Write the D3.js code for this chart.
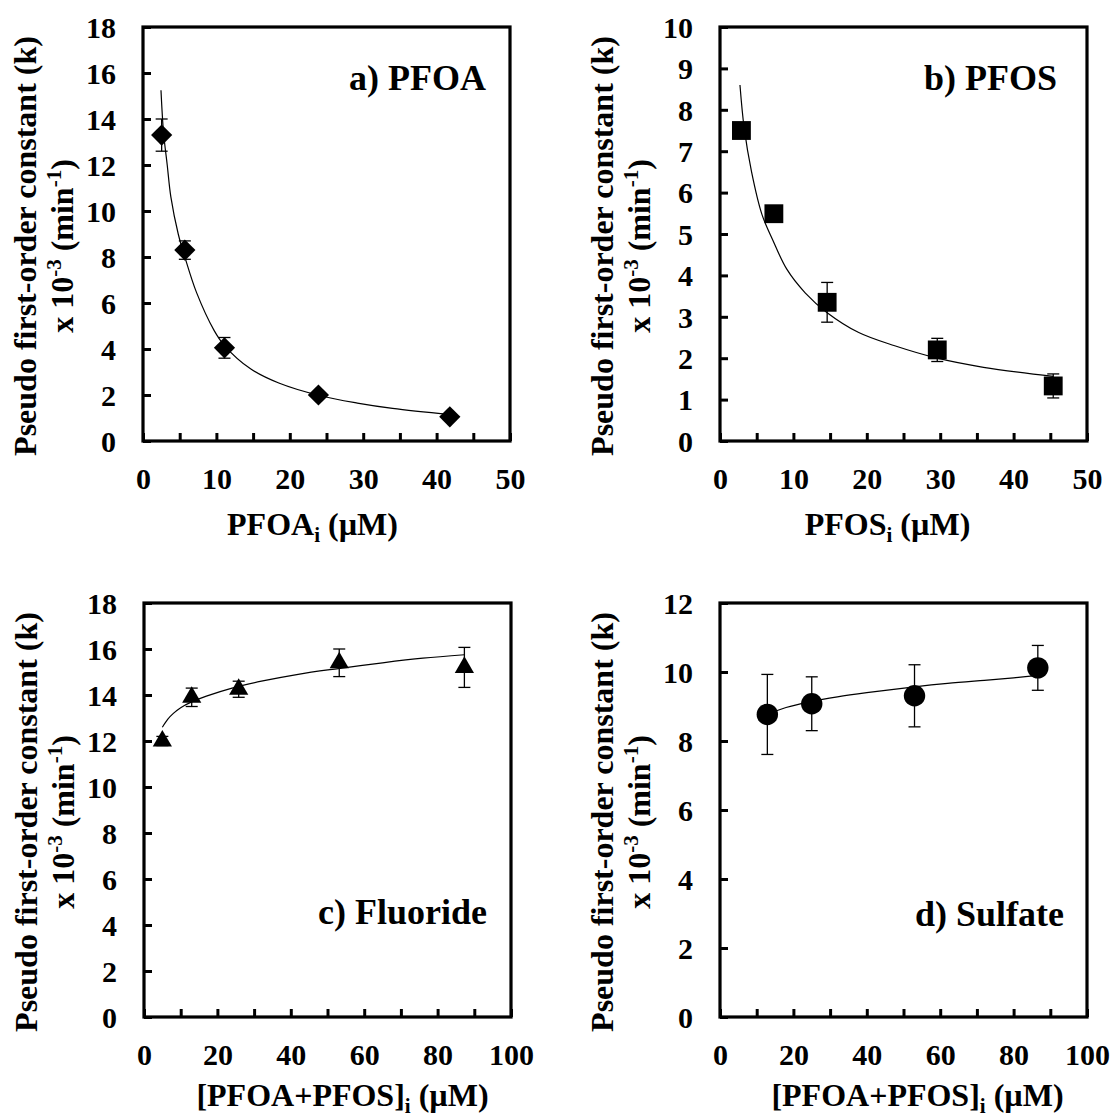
<!DOCTYPE html>
<html>
<head>
<meta charset="utf-8">
<script src="https://cdn.jsdelivr.net/npm/d3@7"></script>
<style>
body { margin: 0; background: #fff; }
text { font-family: "Liberation Serif", "Times New Roman", serif; font-weight: bold; fill: #000; }
</style>
</head>
<body>
<svg id="chart" width="1115" height="1118"></svg>
<script>
//Panel a) PFOA data (read off the figure)
var pfoaX = [2.54, 5.7, 11.1, 23.9, 41.8];
var pfoaK = [13.3, 8.3, 4.05, 2.0, 1.05];
var pfoaErr = [0.7, 0.4, 0.45, 0.12, 0.08];
var pfoaFitX = [2.45, 2.8, 3.3, 3.8, 4.8, 5.7, 7.3, 9.7, 11.1, 14.6, 18.5, 24, 29.2, 34, 41.9];
var pfoaFitK = [15.25, 13.4, 12.0, 10.6, 9.0, 8.0, 6.45, 4.8, 4.15, 3.15, 2.52, 1.98, 1.65, 1.42, 1.15];

//Panel b) PFOS data
var pfosX = [2.92, 7.34, 14.6, 29.6, 45.4];
var pfosK = [7.5, 5.49, 3.35, 2.2, 1.33];
var pfosErr = [0.1, 0.08, 0.48, 0.28, 0.29];
var pfosFitX = [2.72, 3.3, 4.3, 5.7, 7.2, 9.1, 11.6, 14.6, 18.9, 23.8, 29.6, 35.9, 45.4];
var pfosFitK = [8.6, 7.55, 6.5, 5.48, 4.85, 4.15, 3.58, 3.1, 2.62, 2.3, 2.0, 1.78, 1.56];

//Panel c) Fluoride data
var fluX = [5.0, 13.0, 25.8, 53.2, 87.3];
var fluK = [12.0, 13.9, 14.25, 15.4, 15.2];
var fluErr = [0.2, 0.4, 0.35, 0.6, 0.87];
var fluFitX = [5.0, 6.5, 8, 10, 13, 17, 24, 32, 42, 53, 65, 76, 87.3];
var fluFitK = [12.6, 12.95, 13.2, 13.45, 13.7, 13.95, 14.3, 14.6, 14.9, 15.15, 15.4, 15.6, 15.75];

//Panel d) Sulfate data
var sulX = [12.9, 25.0, 53.0, 86.6];
var sulK = [8.77, 9.08, 9.31, 10.12];
var sulErr = [1.16, 0.78, 0.9, 0.65];
var sulFitX = [12.9, 18, 25, 32, 40, 53, 62, 72, 80, 86.6];
var sulFitK = [8.78, 8.97, 9.15, 9.28, 9.4, 9.57, 9.67, 9.76, 9.83, 9.9];

//Tick values and labels
var xTicks50 = [0, 5, 10, 15, 20, 25, 30, 35, 40, 45, 50];
var xLabels50 = [0, 10, 20, 30, 40, 50];
var xTicks100 = [0, 10, 20, 30, 40, 50, 60, 70, 80, 90, 100];
var xLabels100 = [0, 20, 40, 60, 80, 100];
var yTicks18 = [0, 2, 4, 6, 8, 10, 12, 14, 16, 18];
var yTicks10 = [0, 1, 2, 3, 4, 5, 6, 7, 8, 9, 10];
var yTicks12 = [0, 2, 4, 6, 8, 10, 12];

//Text
var panelNames = ["a) PFOA", "b) PFOS", "c) Fluoride", "d) Sulfate"];
var xTitleMain = ["PFOA", "PFOS", "[PFOA+PFOS]", "[PFOA+PFOS]"];
var yTitleLine1 = "Pseudo first-order constant (k)";

//Layout of the four panels
var W = 367, H = 414;
var panels = [
    {left: 143, top: 27, xMax: 50, yMax: 18, xTicks: xTicks50, xLabels: xLabels50, yTicks: yTicks18,
     xs: pfoaX, ks: pfoaK, errs: pfoaErr, fitX: pfoaFitX, fitK: pfoaFitK, marker: "diamond",
     name: panelNames[0], nameX: W - 24, nameY: 63, xTitle: xTitleMain[0], xTitleDx: -14, xTitleY: H + 94},
    {left: 720, top: 27, xMax: 50, yMax: 10, xTicks: xTicks50, xLabels: xLabels50, yTicks: yTicks10,
     xs: pfosX, ks: pfosK, errs: pfosErr, fitX: pfosFitX, fitK: pfosFitK, marker: "square",
     name: panelNames[1], nameX: W - 30, nameY: 63, xTitle: xTitleMain[1], xTitleDx: -16, xTitleY: H + 94},
    {left: 144, top: 603, xMax: 100, yMax: 18, xTicks: xTicks100, xLabels: xLabels100, yTicks: yTicks18,
     xs: fluX, ks: fluK, errs: fluErr, fitX: fluFitX, fitK: fluFitK, marker: "triangle",
     name: panelNames[2], nameX: W - 24, nameY: H - 93, xTitle: xTitleMain[2], xTitleDx: 15, xTitleY: H + 89},
    {left: 720, top: 603, xMax: 100, yMax: 12, xTicks: xTicks100, xLabels: xLabels100, yTicks: yTicks12,
     xs: sulX, ks: sulK, errs: sulErr, fitX: sulFitX, fitK: sulFitK, marker: "circle",
     name: panelNames[3], nameX: W - 23, nameY: H - 91, xTitle: xTitleMain[3], xTitleDx: 14, xTitleY: H + 89}
];

var symbols = {
    diamond: {type: d3.symbolSquare, size: 225, rotate: 45},
    square: {type: d3.symbolSquare, size: 355, rotate: 0},
    triangle: {type: d3.symbolTriangle, size: 160, rotate: 0},
    circle: {type: d3.symbolCircle, size: 360, rotate: 0}
};

var svg = d3.select("#chart");

//Draw one panel
var drawPanel = function(p)
{
    var g = svg.append("g")
        .attr("transform", "translate(" + p.left + "," + p.top + ")");

    var xScale = d3.scaleLinear().domain([0, p.xMax]).range([0, W]);
    var yScale = d3.scaleLinear().domain([0, p.yMax]).range([H, 0]);

    //x axis, ticks pointing in
    var xAxis = g.append("g")
        .attr("transform", "translate(0," + H + ")")
        .call(d3.axisBottom(xScale)
            .tickValues(p.xTicks)
            .tickSize(-8)
            .tickPadding(27)
            .tickFormat(function(d){ return p.xLabels.indexOf(d) >= 0 ? d : ""; }));

    //y axis, ticks pointing in
    var yAxis = g.append("g")
        .call(d3.axisLeft(yScale)
            .tickValues(p.yTicks)
            .tickSize(-8)
            .tickPadding(27));

    [xAxis, yAxis].forEach(function(ax){
        ax.select(".domain").remove();
        ax.attr("font-family", null).attr("font-size", null);
        ax.selectAll(".tick line").attr("stroke", "#000").attr("stroke-width", 3);
        ax.selectAll(".tick text").style("font-size", "30px");
    });
    yAxis.selectAll(".tick text").attr("dy", "0.34em");

    //frame
    g.append("rect")
        .attr("x", 0).attr("y", 0)
        .attr("width", W).attr("height", H)
        .attr("fill", "none")
        .attr("stroke", "#000")
        .attr("stroke-width", 3.2);

    //fitted curve
    var fit = p.fitX.map(function(v, i){ return [v, p.fitK[i]]; });
    g.append("path")
        .datum(fit)
        .attr("fill", "none")
        .attr("stroke", "#000")
        .attr("stroke-width", 1.2)
        .attr("d", d3.line()
            .x(function(d){ return xScale(d[0]); })
            .y(function(d){ return yScale(d[1]); })
            .curve(d3.curveCatmullRom));

    var pts = p.xs.map(function(v, i){ return {x: v, k: p.ks[i], e: p.errs[i]}; });

    //error bars
    var eb = g.selectAll(".err")
        .data(pts)
        .enter()
        .append("g")
        .attr("class", "err")
        .attr("stroke", "#000")
        .attr("stroke-width", 1.3);
    eb.append("line")
        .attr("x1", function(d){ return xScale(d.x); })
        .attr("x2", function(d){ return xScale(d.x); })
        .attr("y1", function(d){ return yScale(d.k - d.e); })
        .attr("y2", function(d){ return yScale(d.k + d.e); });
    [-1, 1].forEach(function(s){
        eb.append("line")
            .attr("x1", function(d){ return xScale(d.x) - 6; })
            .attr("x2", function(d){ return xScale(d.x) + 6; })
            .attr("y1", function(d){ return yScale(d.k + s * d.e); })
            .attr("y2", function(d){ return yScale(d.k + s * d.e); });
    });

    //markers
    var sym = symbols[p.marker];
    g.selectAll(".pt")
        .data(pts)
        .enter()
        .append("path")
        .attr("class", "pt")
        .attr("fill", "#000")
        .attr("d", d3.symbol().type(sym.type).size(sym.size))
        .attr("transform", function(d){
            return "translate(" + xScale(d.x) + "," + yScale(d.k) + ") rotate(" + sym.rotate + ")";
        });

    //panel name
    g.append("text")
        .attr("x", p.nameX)
        .attr("y", p.nameY)
        .attr("text-anchor", "end")
        .style("font-size", "36px")
        .text(p.name);

    //x title with subscript i
    var xt = g.append("text")
        .attr("x", W / 2 + p.xTitleDx)
        .attr("y", p.xTitleY)
        .attr("text-anchor", "middle")
        .style("font-size", "32px");
    xt.append("tspan").text(p.xTitle);
    xt.append("tspan").attr("dy", 7).style("font-size", "21px").text("i");
    xt.append("tspan").attr("dy", -7).text(" (\u00b5M)");

    //y title, two rotated lines
    var cy = H / 2 + 12;
    g.append("text")
        .attr("transform", "translate(-107," + cy + ") rotate(-90)")
        .attr("text-anchor", "middle")
        .style("font-size", "32px")
        .text(yTitleLine1);
    var yt = g.append("text")
        .attr("transform", "translate(-70," + cy + ") rotate(-90)")
        .attr("text-anchor", "middle")
        .style("font-size", "32px");
    yt.append("tspan").text("x 10");
    yt.append("tspan").attr("dy", -12).style("font-size", "21px").text("-3");
    yt.append("tspan").attr("dy", 12).text(" (min");
    yt.append("tspan").attr("dy", -12).style("font-size", "21px").text("-1");
    yt.append("tspan").attr("dy", 12).text(")");
}

panels.forEach(drawPanel);
</script>
</body>
</html>
